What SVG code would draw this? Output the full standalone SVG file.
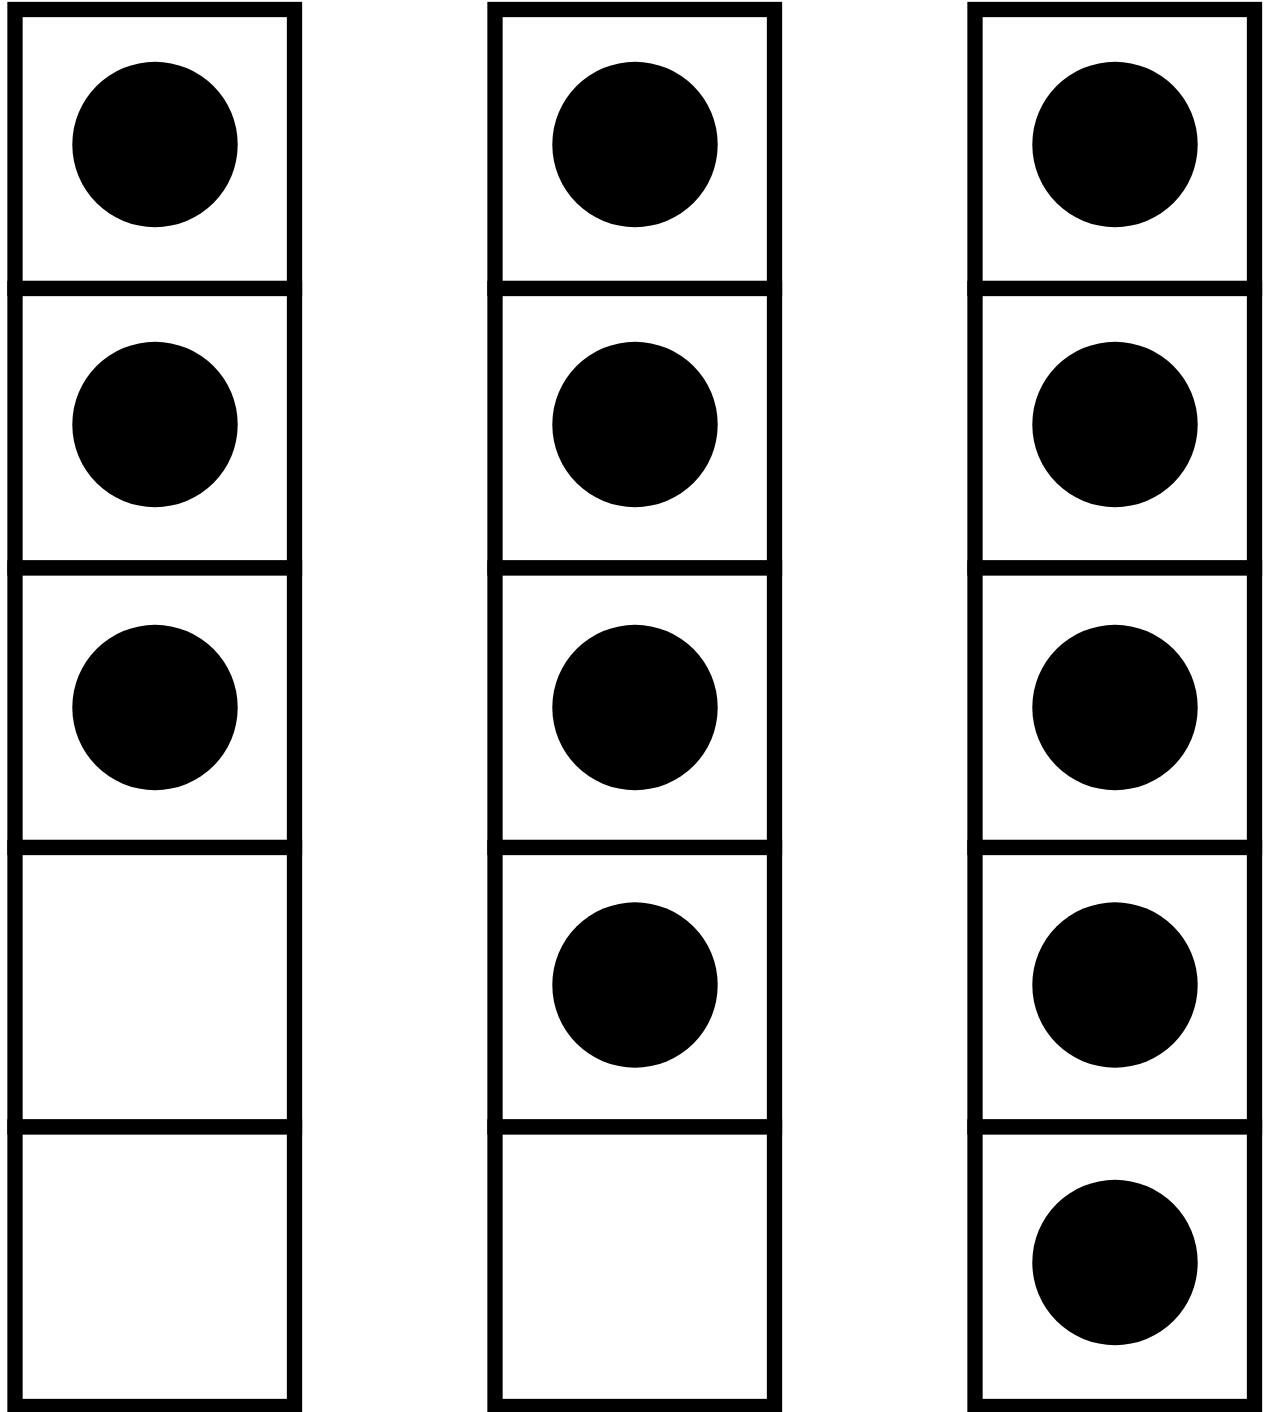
<svg xmlns="http://www.w3.org/2000/svg" width="1264" height="1412" viewBox="0 0 1264 1412">
<style>
.cell{fill:#fff;stroke:#000;stroke-width:15.3}
.dot{fill:#000}
</style>
<rect width="1264" height="1412" fill="#fff"/>
<g id="col1">
<g id="c1r1"><rect class="cell" x="15" y="9.5" width="279.5" height="279"/><circle class="dot" cx="155" cy="144.5" r="82.7"/></g>
<g id="c1r2"><rect class="cell" x="15" y="288.5" width="279.5" height="279.5"/><circle class="dot" cx="155" cy="424.5" r="82.7"/></g>
<g id="c1r3"><rect class="cell" x="15" y="568" width="279.5" height="279.5"/><circle class="dot" cx="155" cy="707.5" r="82.7"/></g>
<g id="c1r4"><rect class="cell" x="15" y="847.5" width="279.5" height="279.5"/></g>
<g id="c1r5"><rect class="cell" x="15" y="1127" width="279.5" height="279.5"/></g>
</g>
<g id="col2">
<g id="c2r1"><rect class="cell" x="495" y="9.5" width="279.5" height="279"/><circle class="dot" cx="635" cy="144.5" r="82.7"/></g>
<g id="c2r2"><rect class="cell" x="495" y="288.5" width="279.5" height="279.5"/><circle class="dot" cx="635" cy="424.5" r="82.7"/></g>
<g id="c2r3"><rect class="cell" x="495" y="568" width="279.5" height="279.5"/><circle class="dot" cx="635" cy="707.5" r="82.7"/></g>
<g id="c2r4"><rect class="cell" x="495" y="847.5" width="279.5" height="279.5"/><circle class="dot" cx="635" cy="985" r="82.7"/></g>
<g id="c2r5"><rect class="cell" x="495" y="1127" width="279.5" height="279.5"/></g>
</g>
<g id="col3">
<g id="c3r1"><rect class="cell" x="975" y="9.5" width="279.5" height="279"/><circle class="dot" cx="1115" cy="144.5" r="82.7"/></g>
<g id="c3r2"><rect class="cell" x="975" y="288.5" width="279.5" height="279.5"/><circle class="dot" cx="1115" cy="424.5" r="82.7"/></g>
<g id="c3r3"><rect class="cell" x="975" y="568" width="279.5" height="279.5"/><circle class="dot" cx="1115" cy="707.5" r="82.7"/></g>
<g id="c3r4"><rect class="cell" x="975" y="847.5" width="279.5" height="279.5"/><circle class="dot" cx="1115" cy="985" r="82.7"/></g>
<g id="c3r5"><rect class="cell" x="975" y="1127" width="279.5" height="279.5"/><circle class="dot" cx="1115" cy="1262.5" r="82.7"/></g>
</g>
<g id="connectors"/>
</svg>
